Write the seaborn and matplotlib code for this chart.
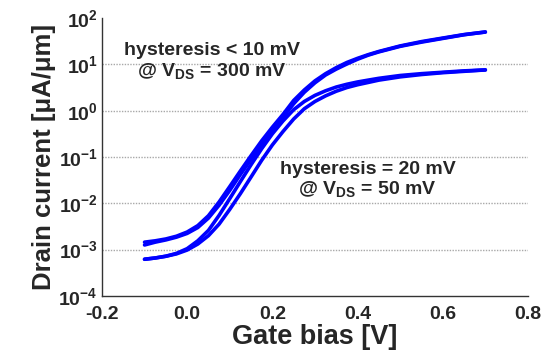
import numpy as np
import pandas as pd
import matplotlib
matplotlib.use('Agg')
import matplotlib.pyplot as plt
import matplotlib.ticker as mticker
import seaborn as sns

# gate bias sweep [V]
vg = [-0.1, -0.075, -0.05, -0.025, 0.0, 0.025, 0.05, 0.075, 0.1, 0.125, 0.15, 0.175,
      0.2, 0.225, 0.25, 0.275, 0.3, 0.325, 0.35, 0.375, 0.4, 0.425, 0.45, 0.5, 0.55,
      0.6, 0.65, 0.7]

# drain current [uA/um], VDS = 300 mV, forward / reverse
id_300_fwd = [1.45e-3, 1.55e-3, 1.70e-3, 1.95e-3, 2.4e-3, 3.3e-3, 5.4e-3, 1.07e-2, 2.3e-2,
              5.0e-2, 0.107, 0.224, 0.44, 0.83, 1.66, 2.8, 4.4, 6.3, 8.5, 11.0, 13.5, 16.2,
              19, 25, 31, 37, 44, 50]
id_300_rev = [1.26e-3, 1.45e-3, 1.62e-3, 1.86e-3, 2.24e-3, 3.0e-3, 4.8e-3, 9.1e-3, 1.9e-2,
              4.2e-2, 8.9e-2, 0.186, 0.37, 0.72, 1.41, 2.5, 4.0, 5.9, 7.9, 10.2, 12.9, 15.8,
              18.6, 24.5, 30.2, 36.3, 43.6, 50]

# drain current [uA/um], VDS = 50 mV, forward / reverse
id_50_fwd = [6.2e-4, 6.6e-4, 7.2e-4, 8.3e-4, 1.05e-3, 1.55e-3, 2.6e-3, 5.5e-3, 1.26e-2,
             2.95e-2, 6.8e-2, 0.151, 0.316, 0.60, 1.05, 1.58, 2.14, 2.69, 3.24, 3.72, 4.17,
             4.57, 5.0, 5.75, 6.3, 6.76, 7.24, 7.59]
id_50_rev = [6.2e-4, 6.6e-4, 7.2e-4, 8.1e-4, 9.8e-4, 1.32e-3, 2.0e-3, 3.55e-3, 7.4e-3,
             1.62e-2, 3.7e-2, 8.5e-2, 0.182, 0.355, 0.66, 1.10, 1.58, 2.09, 2.63, 3.16, 3.63,
             4.07, 4.57, 5.37, 6.03, 6.61, 7.08, 7.59]

xticks = [-0.2, 0.0, 0.2, 0.4, 0.6, 0.8]

branches = {'300_fwd': id_300_fwd, '300_rev': id_300_rev,
            '50_fwd': id_50_fwd, '50_rev': id_50_rev}
df = pd.concat([pd.DataFrame({'Vg': vg, 'Id': v, 'branch': k}) for k, v in branches.items()],
               ignore_index=True)

sns.set_style('white')
plt.rcParams['font.family'] = ['Liberation Sans', 'DejaVu Sans']
plt.rcParams['font.weight'] = 'bold'
plt.rcParams['axes.unicode_minus'] = False
plt.rcParams['mathtext.fontset'] = 'custom'
plt.rcParams['mathtext.rm'] = 'Liberation Sans:bold'
plt.rcParams['mathtext.bf'] = 'Liberation Sans:bold'

fig = plt.figure(figsize=(5.54, 3.54), dpi=100)
ax = fig.add_axes([0.184, 0.164, 0.769, 0.785])

sns.lineplot(data=df, x='Vg', y='Id', hue='branch', units='branch', estimator=None,
             sort=False, palette={k: '#0000ff' for k in branches}, linewidth=2.6,
             legend=False, ax=ax)

ax.set_yscale('log')
ax.set_xlim(-0.2, 0.8)
ax.set_ylim(1e-4, 1e2)
ax.set_xticks(xticks)
ax.xaxis.set_minor_locator(mticker.MultipleLocator(0.1))
ax.xaxis.set_major_formatter(mticker.FormatStrFormatter('%.1f'))
ax.yaxis.set_major_locator(mticker.LogLocator(base=10, numticks=10))
ax.yaxis.set_minor_locator(mticker.LogLocator(base=10, subs=np.arange(2, 10), numticks=10))
ax.yaxis.set_minor_formatter(mticker.NullFormatter())

# dotted grid at each decade
for y in [1e-3, 1e-2, 1e-1, 1e0, 1e1]:
    ax.axhline(y, color='#a8a8a8', linestyle=(0, (1, 1)), linewidth=1.0, zorder=0)

for s in ['top', 'right']:
    ax.spines[s].set_visible(False)
for s in ['left', 'bottom']:
    ax.spines[s].set_color('#333333')
    ax.spines[s].set_linewidth(1.0)

ax.tick_params(axis='both', which='both', direction='in', color='#333333', width=0.8)
ax.tick_params(axis='both', which='major', length=4, labelsize=14)
ax.tick_params(axis='x', which='major', pad=7)
ax.tick_params(axis='y', which='major', pad=3)
ax.tick_params(axis='both', which='minor', length=3)
for lbl in ax.get_xticklabels() + ax.get_yticklabels():
    lbl.set_fontweight('bold')

ax.set_xlabel('Gate bias [V]', fontsize=19.5, fontweight='bold', labelpad=1)
ax.set_ylabel('Drain current [\u03bcA/\u03bcm]', fontsize=18.5, fontweight='bold', labelpad=2)

ax.text(0.058, 10 ** 1.31, 'hysteresis < 10 mV', ha='center', va='center',
        fontsize=14, fontweight='bold')
ax.text(0.058, 10 ** 0.83, r'@ V$_{\mathregular{DS}}$ = 300 mV', ha='center', va='center',
        fontsize=14, fontweight='bold')
ax.text(0.424, 10 ** -1.28, 'hysteresis = 20 mV', ha='center', va='center',
        fontsize=14, fontweight='bold')
ax.text(0.424, 10 ** -1.71, r'@ V$_{\mathregular{DS}}$ = 50 mV', ha='center', va='center',
        fontsize=14, fontweight='bold')

fig.savefig('out.png', dpi=100)
